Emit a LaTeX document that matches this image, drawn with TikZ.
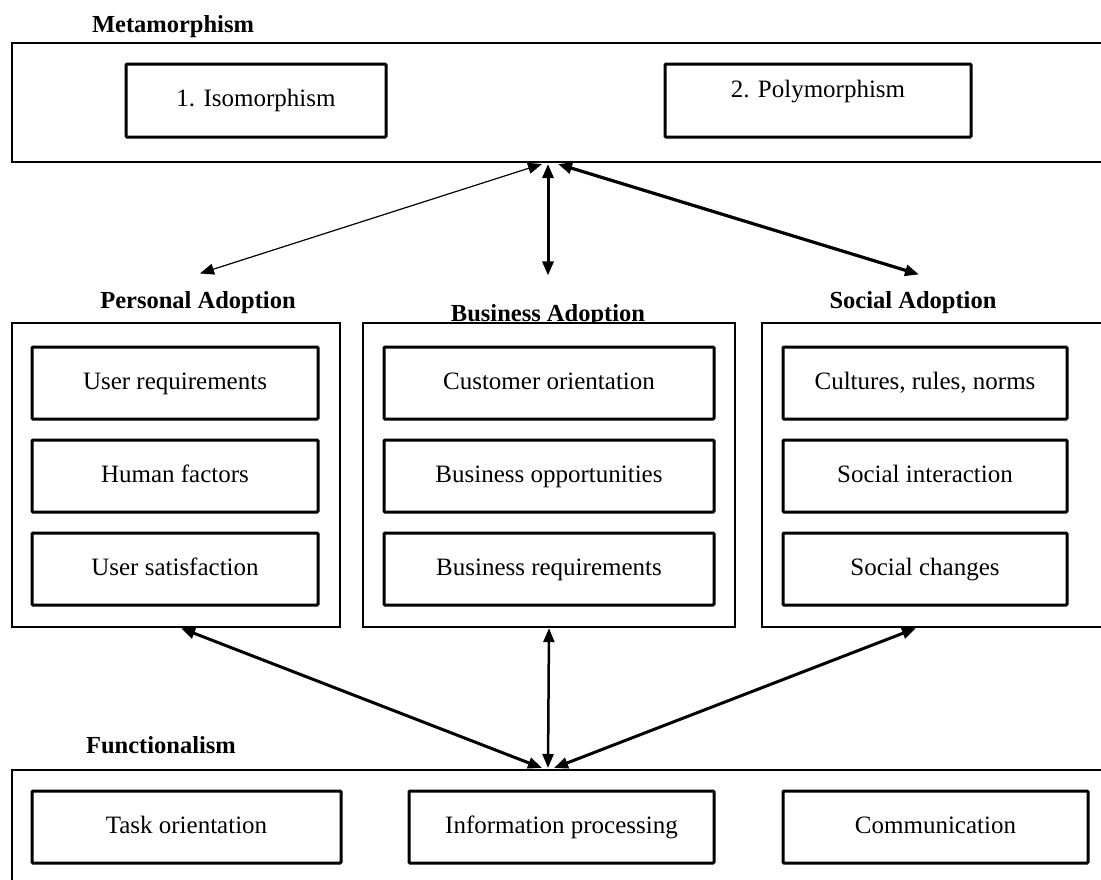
\documentclass[tikz,border=0pt]{standalone}
\usepackage{fontspec}
\setmainfont{Liberation Serif}
\usetikzlibrary{arrows.meta, positioning}

\begin{document}
\begin{tikzpicture}[x=1pt, y=-1pt,
    node distance=18pt,
    outerbox/.style={rectangle, draw=black, fill=white, line width=2.4pt, inner sep=0pt},
    itembox/.style={rectangle, draw=black, fill=white, line width=3pt,
                    minimum height=72pt, align=center, rounded corners=1pt,
                    text height=17pt, text depth=5pt,
                    font=\fontsize{25}{28}\selectfont},
    grouplbl/.style={anchor=base, font=\fontsize{24.5}{28}\selectfont\bfseries},
    arr/.style={{Triangle[length=14pt, width=11pt]}-{Triangle[length=14pt, width=11pt]}, line width=3pt},
    tarr/.style={{Triangle[length=14pt, width=11pt]}-{Triangle[length=14pt, width=11pt]}, line width=1.2pt},
  ]
    \useasboundingbox (0,0) rectangle (1101,879);
    \clip (0,0) rectangle (1101,879);

    % ── Metamorphism ─────────────────────────────
    \node[grouplbl] (metalbl) at (173,32) {Metamorphism};
    \node[outerbox, minimum width=1100pt, minimum height=119pt] (meta) at (562,102.5) {};
    \node[itembox, minimum width=260pt, minimum height=73pt] (iso) at (256,100.5) {1. Isomorphism};
    \node[itembox, minimum width=306pt, minimum height=73pt,
          label={[font=\fontsize{25}{28}\selectfont, yshift=9pt]center:2. Polymorphism}] (poly) at (818,100.5) {};

    % ── Adoption labels ──────────────────────────
    \node[grouplbl] (plbl) at (198,308) {Personal Adoption};
    \node[grouplbl] (blbl) at (548,321) {Business Adoption};
    \node[grouplbl] (slbl) at (913,308) {Social Adoption};

    % ── Adoption boxes ───────────────────────────
    \node[outerbox, minimum width=328pt, minimum height=304pt] (pbox) at (176,475) {};
    \node[outerbox, minimum width=372pt, minimum height=304pt] (bbox) at (549,475) {};
    \node[outerbox, minimum width=350pt, minimum height=304pt] (sbox) at (937,475) {};

    \node[itembox, minimum width=286pt] (ureq) at (175,383) {User requirements};
    \node[itembox, minimum width=286pt, below=of ureq] (human) {Human factors};
    \node[itembox, minimum width=286pt, below=of human] (usat) {User satisfaction};

    \node[itembox, minimum width=330pt] (cust) at (549,383) {Customer orientation};
    \node[itembox, minimum width=330pt, below=of cust] (bopp) {Business opportunities};
    \node[itembox, minimum width=330pt, below=of bopp] (breq) {Business requirements};

    \node[itembox, minimum width=284pt] (cult) at (925,383) {Cultures, rules, norms};
    \node[itembox, minimum width=284pt, below=of cult] (sint) {Social interaction};
    \node[itembox, minimum width=284pt, below=of sint] (schg) {Social changes};

    % ── Functionalism ────────────────────────────
    \node[grouplbl] (funclbl) at (161,753) {Functionalism};
    \node[outerbox, minimum width=1100pt, minimum height=130pt] (func) at (562,835) {};
    \node[itembox, minimum width=309pt] (task) at (186.5,827) {Task orientation};
    \node[itembox, minimum width=305pt] (info) at (561.5,827) {Information processing};
    \node[itembox, minimum width=305pt] (comm) at (935.5,827) {Communication};

    % ── Arrows ───────────────────────────────────
    \coordinate (thub) at (548,164);
    \coordinate (bhub) at (548,768);
    \draw[tarr] ([xshift=-6pt]thub) -- ([xshift=2pt, yshift=14pt]plbl.north);
    \draw[arr] (thub) -- ([yshift=25pt]blbl.north);
    \draw[arr, line width=3.2pt] ([xshift=10pt]thub) -- ([xshift=6pt, yshift=13pt]slbl.north);

    \draw[arr] ([xshift=-6pt]bhub) -- ([xshift=5pt]pbox.south);
    \draw[arr, line width=2.5pt] (bhub) -- (bbox.south);
    \draw[arr] ([xshift=6pt]bhub) -- ([xshift=-21pt]sbox.south);
\end{tikzpicture}
\end{document}
